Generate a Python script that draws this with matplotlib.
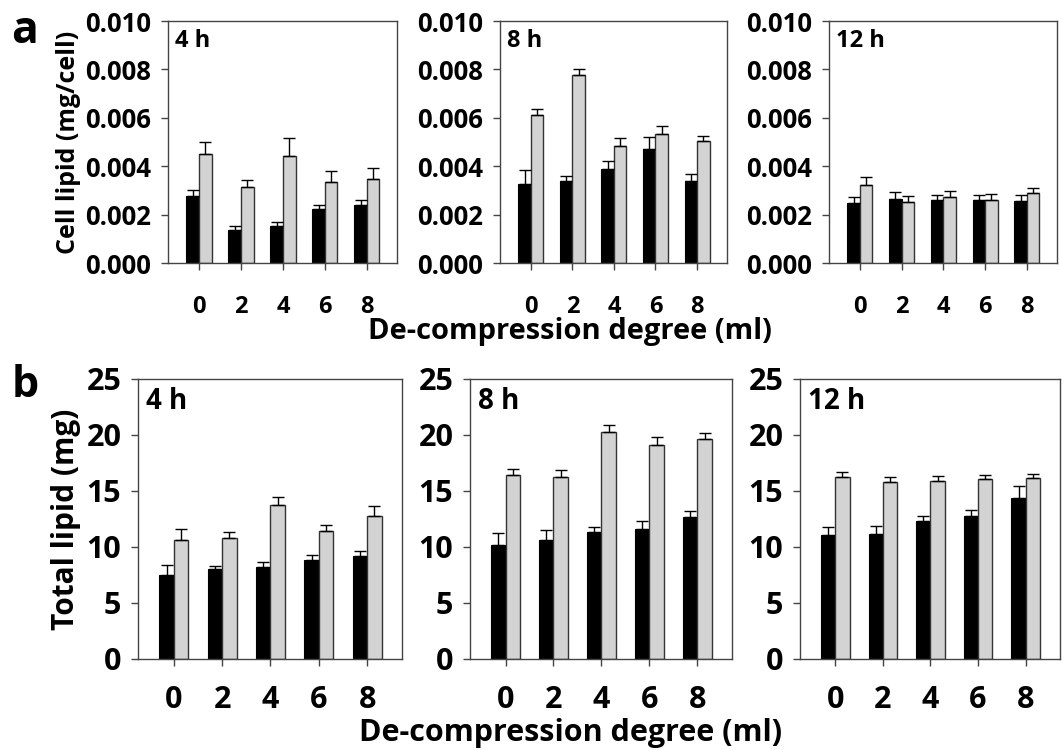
import numpy as np
import matplotlib
matplotlib.use('Agg')
import matplotlib.pyplot as plt

plt.rcParams['font.family'] = ['Open Sans', 'DejaVu Sans']
plt.rcParams['font.weight'] = 'bold'

degrees = ['0', '2', '4', '6', '8']
hours = ['4 h', '8 h', '12 h']

# panel a: cell lipid (mg/cell), black and gray bars, upper error tips
cell_black = [
    [0.00275, 0.00137, 0.00151, 0.00223, 0.00241],
    [0.00328, 0.00337, 0.00390, 0.00470, 0.00339],
    [0.00247, 0.00265, 0.00262, 0.00262, 0.00258],
]
cell_black_top = [
    [0.00302, 0.00151, 0.00169, 0.00238, 0.00259],
    [0.00383, 0.00358, 0.00421, 0.00521, 0.00366],
    [0.00273, 0.00295, 0.00283, 0.00283, 0.00283],
]
cell_gray = [
    [0.00450, 0.00312, 0.00443, 0.00334, 0.00347],
    [0.00610, 0.00778, 0.00483, 0.00532, 0.00503],
    [0.00324, 0.00252, 0.00274, 0.00261, 0.00290],
]
cell_gray_top = [
    [0.00502, 0.00344, 0.00515, 0.00381, 0.00391],
    [0.00635, 0.00803, 0.00518, 0.00565, 0.00525],
    [0.00356, 0.00276, 0.00299, 0.00284, 0.00309],
]

# panel b: total lipid (mg)
total_black = [
    [7.46, 8.06, 8.23, 8.80, 9.23],
    [10.21, 10.63, 11.31, 11.64, 12.65],
    [11.04, 11.19, 12.35, 12.80, 14.38],
]
total_black_top = [
    [8.41, 8.32, 8.62, 9.30, 9.61],
    [11.25, 11.49, 11.82, 12.29, 13.24],
    [11.76, 11.85, 12.80, 13.33, 15.48],
]
total_gray = [
    [10.64, 10.79, 13.73, 11.39, 12.74],
    [16.46, 16.25, 20.27, 19.14, 19.64],
    [16.28, 15.77, 15.92, 16.10, 16.19],
]
total_gray_top = [
    [11.62, 11.33, 14.42, 11.92, 13.63],
    [17.00, 16.88, 20.89, 19.79, 20.18],
    [16.67, 16.22, 16.31, 16.40, 16.52],
]

W, H = 1062, 750
fig = plt.figure(figsize=(10.62, 7.5), dpi=100)

def px_axes(left, top, right, bottom):
    return fig.add_axes([left / W, 1 - bottom / H, (right - left) / W, (bottom - top) / H])

top_boxes = [(168, 21, 397, 263), (500, 21, 727, 263), (829, 21, 1057, 263)]
bot_boxes = [(138, 379, 402, 659), (470, 379, 732, 659), (800, 379, 1060, 659)]

x = np.arange(len(degrees))
bw = 0.3


def draw(ax, black, black_top, gray, gray_top, ymax, yticks, fmt, ytick_fs, xtick_fs, lab_fs, label, xpad, laby):
    black = np.array(black)
    gray = np.array(gray)
    eb = np.array(black_top) - black
    eg = np.array(gray_top) - gray
    ax.bar(x - bw / 2, black, bw, color='black', edgecolor='black', linewidth=0.8,
           yerr=[np.zeros_like(eb), eb], error_kw=dict(ecolor='black', elinewidth=1, capsize=4, capthick=1))
    ax.bar(x + bw / 2, gray, bw, color='#d3d3d3', edgecolor='#333333', linewidth=1,
           yerr=[np.zeros_like(eg), eg], error_kw=dict(ecolor='black', elinewidth=1, capsize=4, capthick=1))
    ax.set_xlim(-0.74, 4.72)
    ax.set_ylim(0, ymax)
    ax.set_yticks(yticks)
    ax.set_yticklabels([fmt.format(v) for v in yticks], fontsize=ytick_fs, fontweight='bold')
    ax.set_xticks(x)
    ax.set_xticklabels(degrees, fontsize=xtick_fs, fontweight='bold')
    ax.tick_params(axis='both', direction='out', length=5, width=1, color='#444444')
    ax.tick_params(axis='y', pad=7)
    ax.tick_params(axis='x', pad=xpad)
    for s in ax.spines.values():
        s.set_color('#444444')
        s.set_linewidth(1)
    ax.text(0.03, laby, label, transform=ax.transAxes, ha='left', va='top',
            fontsize=lab_fs, fontweight='bold')


for i, box in enumerate(top_boxes):
    ax = px_axes(*box)
    draw(ax, cell_black[i], cell_black_top[i], cell_gray[i], cell_gray_top[i],
         0.010, [0, 0.002, 0.004, 0.006, 0.008, 0.010], '{:.3f}', 18.5, 17, 17, hours[i], 18, 0.965)
    if i == 0:
        ax.set_ylabel('Cell lipid (mg/cell)', fontsize=18, fontweight='bold', labelpad=3)

for i, box in enumerate(bot_boxes):
    ax = px_axes(*box)
    draw(ax, total_black[i], total_black_top[i], total_gray[i], total_gray_top[i],
         25, [0, 5, 10, 15, 20, 25], '{:g}', 22, 22, 20, hours[i], 14, 0.97)
    if i == 0:
        ax.set_ylabel('Total lipid (mg)', fontsize=21.5, fontweight='bold', labelpad=4)

fig.text(570 / W, 1 - 332 / H, 'De-compression degree (ml)', ha='center', va='center',
         fontsize=21, fontweight='bold')
fig.text(571 / W, 1 - 733 / H, 'De-compression degree (ml)', ha='center', va='center',
         fontsize=22, fontweight='bold')
fig.text(25 / W, 1 - 43 / H, 'a', ha='center', va='baseline', fontsize=32, fontweight='bold')
fig.text(25 / W, 1 - 397 / H, 'b', ha='center', va='baseline', fontsize=31, fontweight='bold')

fig.savefig('out.png', dpi=100)
